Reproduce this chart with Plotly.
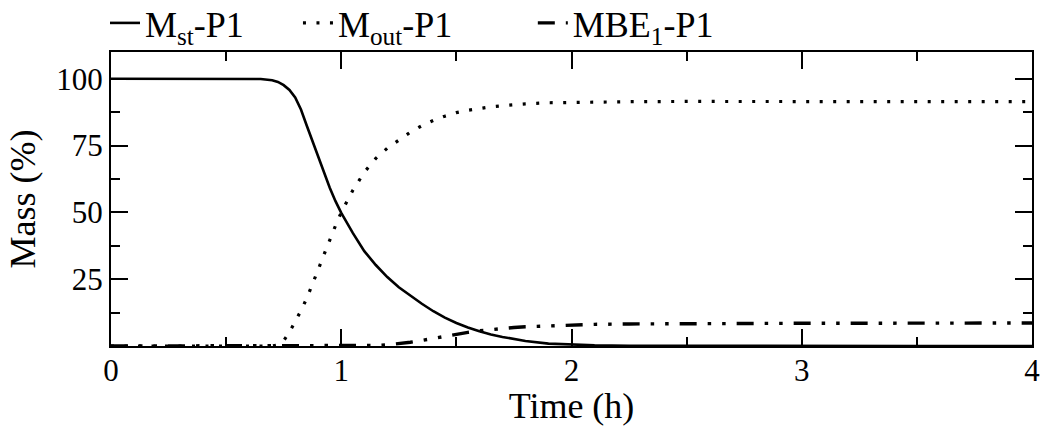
import plotly.graph_objects as go

# Time axis (h)
time_h = [0.0, 0.1, 0.2, 0.3, 0.4, 0.5, 0.6, 0.65, 0.7, 0.725, 0.75, 0.775,
          0.8, 0.825, 0.85, 0.875, 0.9, 0.925, 0.95, 0.975, 1.0, 1.05, 1.1,
          1.15, 1.2, 1.25, 1.3, 1.35, 1.4, 1.45, 1.5, 1.55, 1.6, 1.65, 1.7,
          1.75, 1.8, 1.9, 2.0, 2.1, 2.25, 2.5, 3.0, 3.5, 4.0]

# Mass in storage (%)
m_st = [100, 100, 100, 100, 100, 100, 100, 99.9, 99.4, 98.8, 97.6, 95.8,
        93.0, 88.5, 82.5, 76.5, 70.5, 64.8, 59.2, 54.2, 49.8, 42.3, 35.5,
        30.3, 25.8, 22.0, 18.8, 15.8, 13.0, 10.6, 8.6, 6.9, 5.5, 4.3, 3.4,
        2.6, 1.9, 0.9, 0.45, 0.25, 0.1, 0.03, 0, 0, 0]

# Mass released (%)
m_out = [0, 0, 0, 0, 0, 0, 0, 0, 0, 0.4, 2.0, 5.2,
         9.0, 13.2, 17.8, 23.0, 28.6, 34.2, 39.8, 45.0, 50.0, 58.2, 65.0,
         70.2, 74.0, 77.0, 80.0, 82.4, 84.4, 86.0, 87.3, 88.2, 88.9, 89.5, 89.9,
         90.3, 90.6, 91.0, 91.2, 91.3, 91.4, 91.5, 91.5, 91.5, 91.4]

# Mass bound in element 1 (%)
mbe_1 = [0, 0, 0, 0, 0, 0, 0, 0, 0, 0, 0, 0,
         0, 0, 0, 0, 0, 0, 0, 0, 0, 0, 0.05,
         0.2, 0.45, 0.8, 1.4, 2.1, 2.9, 3.7, 4.4, 5.1, 5.7, 6.2, 6.6,
         6.9, 7.2, 7.6, 7.9, 8.1, 8.25, 8.4, 8.5, 8.55, 8.6]

x_ticks = [0, 1, 2, 3, 4]
x_minor = [0.5, 1.5, 2.5, 3.5]
y_ticks = [25, 50, 75, 100]
y_minor = [12.5, 37.5, 62.5, 87.5]

FONT = "'Times New Roman', 'Liberation Serif', Times, serif"

legend_box = dict(
    orientation="h", xanchor="left", yref="container", y=0.946, yanchor="middle",
    font=dict(family=FONT, size=36, color="black"),
    itemwidth=30, bgcolor="rgba(0,0,0,0)", borderwidth=0,
)

fig = go.Figure()
fig.add_trace(go.Scatter(
    x=time_h, y=m_st, mode="lines", name="M<sub>st</sub>-P1", legend="legend",
    line=dict(color="black", width=2.6)))
fig.add_trace(go.Scatter(
    x=time_h, y=m_out, mode="lines", name="M<sub>out</sub>-P1", legend="legend2",
    line=dict(color="black", width=3.2, dash="3px,10.5px")))
fig.add_trace(go.Scatter(
    x=time_h, y=mbe_1, mode="lines", name="MBE<sub>1</sub>-P1", legend="legend3",
    line=dict(color="black", width=3.4, dash="17px,11px,3.5px,11px,3.5px,11px")))

axis_common = dict(
    showline=True, linecolor="black", linewidth=2, mirror="ticks",
    ticks="inside", ticklen=17, tickwidth=1.5, tickcolor="black",
    showgrid=False, zeroline=False,
    tickfont=dict(family=FONT, size=31, color="black"),
)

fig.update_xaxes(
    range=[0, 4], tickmode="array", tickvals=x_ticks, ticklabelstandoff=-4,
    minor=dict(tickvals=x_minor, ticks="inside", ticklen=9, tickwidth=1.5, tickcolor="black"),
    title=dict(text="Time (h)", font=dict(family=FONT, size=36, color="black"), standoff=4),
    **axis_common)
fig.update_yaxes(
    range=[0, 110], tickmode="array", tickvals=y_ticks,
    minor=dict(tickvals=y_minor, ticks="inside", ticklen=9, tickwidth=1.5, tickcolor="black"),
    title=dict(text="Mass (%)", font=dict(family=FONT, size=36, color="black"), standoff=10),
    **axis_common)

fig.update_layout(
    width=1041, height=426,
    margin=dict(l=111, r=9, t=52, b=80, autoexpand=False),
    paper_bgcolor="white", plot_bgcolor="white",
    font=dict(family=FONT, color="black"),
    showlegend=True,
    legend=dict(x=-0.0065, **legend_box),
    legend2=dict(x=0.203, **legend_box),
    legend3=dict(x=0.458, **legend_box),
)

fig.write_html("out.html")
